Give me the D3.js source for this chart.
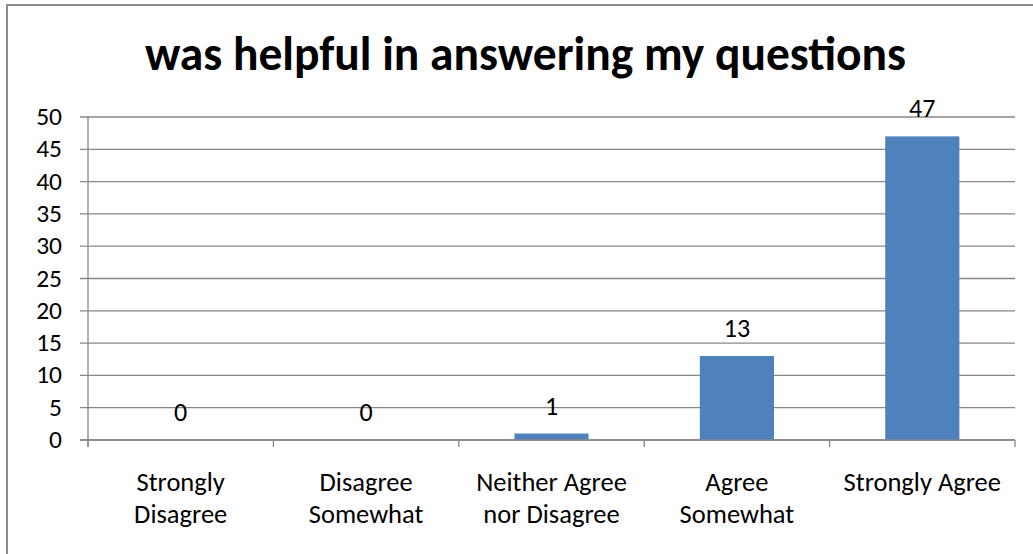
<!DOCTYPE html>
<html>
<head>
<meta charset="utf-8">
<script src="https://cdn.jsdelivr.net/npm/d3@7"></script>
<style>
  body { margin: 0; background: #fff; }
  text { font-family: Carlito, "Open Sans", "Liberation Sans", sans-serif; fill: #000; }
</style>
</head>
<body>
<div id="chart"></div>
<script>
// chart data
const titleText = "was helpful in answering my questions";
const categories = [
    ["Strongly", "Disagree"],
    ["Disagree", "Somewhat"],
    ["Neither Agree", "nor Disagree"],
    ["Agree", "Somewhat"],
    ["Strongly Agree"]
];
const values = [0, 0, 1, 13, 47];
const yTicks = [0, 5, 10, 15, 20, 25, 30, 35, 40, 45, 50];

const width_svg = 1033, height_svg = 554;
const margin = {left: 88, right: 18, top: 117, bottom: 114};

const svg = d3.select("#chart")
    .append("svg")
    .attr("width", width_svg)
    .attr("height", height_svg);

// outer frame (only top and left edges fall inside the picture)
svg.append("rect")
    .attr("x", 7)
    .attr("y", 5)
    .attr("width", 1040)
    .attr("height", 560)
    .attr("fill", "none")
    .attr("stroke", "#8c8c8c")
    .attr("stroke-width", 2);

const x = d3.scaleBand()
    .domain(d3.range(categories.length))
    .range([margin.left, width_svg - margin.right])
    .paddingInner(0.6)
    .paddingOuter(0.3);

const y = d3.scaleLinear()
    .domain([0, 50])
    .range([height_svg - margin.bottom, margin.top]);

const catWidth = (width_svg - margin.right - margin.left) / categories.length;

// gridlines
svg.append("g")
    .selectAll("line")
    .data(yTicks)
    .join("line")
    .attr("x1", margin.left - 8)
    .attr("x2", width_svg - margin.right)
    .attr("y1", d => y(d))
    .attr("y2", d => y(d))
    .attr("stroke", "#878787")
    .attr("stroke-width", 1.3);

// y axis labels
svg.append("g")
    .selectAll("text")
    .data(yTicks)
    .join("text")
    .attr("x", 62)
    .attr("y", d => y(d) + 8)
    .attr("text-anchor", "end")
    .style("font-size", "25.5px")
    .text(d => d);

// bars
svg.append("g")
    .selectAll("rect")
    .data(values)
    .join("rect")
    .attr("x", (d, i) => x(i))
    .attr("width", x.bandwidth())
    .attr("y", d => y(d))
    .attr("height", d => y(0) - y(d))
    .attr("fill", "#4f81bd");

// axes lines
svg.append("line")
    .attr("x1", margin.left).attr("x2", margin.left)
    .attr("y1", y(50)).attr("y2", y(0) + 7)
    .attr("stroke", "#878787").attr("stroke-width", 1.3);
svg.append("line")
    .attr("x1", margin.left - 8).attr("x2", width_svg - margin.right)
    .attr("y1", y(0)).attr("y2", y(0))
    .attr("stroke", "#878787").attr("stroke-width", 1.5);

// category ticks below the axis
svg.append("g")
    .selectAll("line")
    .data(d3.range(categories.length + 1))
    .join("line")
    .attr("x1", i => margin.left + i * catWidth)
    .attr("x2", i => margin.left + i * catWidth)
    .attr("y1", y(0))
    .attr("y2", y(0) + 7)
    .attr("stroke", "#878787")
    .attr("stroke-width", 1.3);

// value labels
svg.append("g")
    .selectAll("text")
    .data(values)
    .join("text")
    .attr("x", (d, i) => x(i) + x.bandwidth() / 2)
    .attr("y", d => y(d) - 19)
    .attr("text-anchor", "middle")
    .style("font-size", "26px")
    .text(d => d);

// category labels
const catLabel = svg.append("g")
    .selectAll("text")
    .data(categories)
    .join("text")
    .attr("text-anchor", "middle")
    .style("font-size", "26.5px");

catLabel.selectAll("tspan")
    .data((d, i) => d.map(line => ({line, i})))
    .join("tspan")
    .attr("x", d => x(d.i) + x.bandwidth() / 2)
    .attr("y", (d, j) => 491 + j * 32)
    .text(d => d.line);

// title
svg.append("text")
    .attr("x", (143 + 908) / 2)
    .attr("y", 70)
    .attr("text-anchor", "middle")
    .style("font-size", "47.5px")
    .style("font-weight", "bold")
    .text(titleText);
</script>
</body>
</html>
